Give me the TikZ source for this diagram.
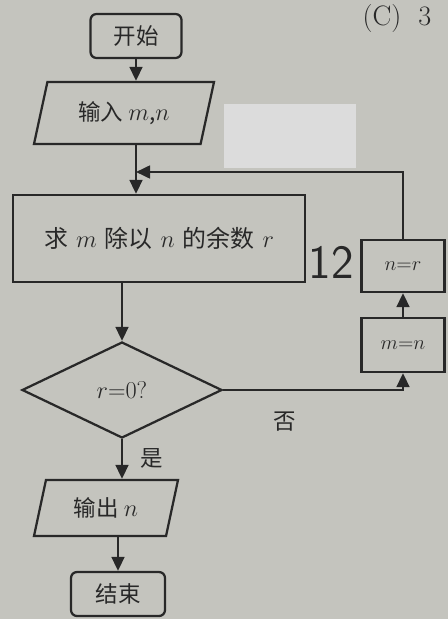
\documentclass[tikz,border=0pt]{standalone}
\usepackage{fontspec}
\newfontfamily\cjk{Noto Sans CJK SC}
\usetikzlibrary{shapes.geometric,arrows.meta}
\definecolor{paper}{RGB}{196,196,190}
\definecolor{ink}{RGB}{40,40,40}
\definecolor{patch}{RGB}{220,220,220}
\begin{document}
\begin{tikzpicture}[x=0.25mm,y=-0.25mm,
  every node/.style={font=\cjk\fontsize{16}{18}\selectfont, text=ink},
  box/.style={draw=ink, line width=1.6pt, inner sep=0pt},
  term/.style={box, rounded corners=1.5mm},
  io/.style={box, trapezium, trapezium left angle=60, trapezium right angle=120, trapezium stretches body},
  proc/.style={box, rectangle},
  dec/.style={box, diamond},
  small/.style={font=\cjk\fontsize{15}{17}\selectfont},
  flow/.style={draw=ink, line width=1.6pt, -{Triangle[length=3.5mm,width=3.2mm]}}]
\fill[paper] (0,0) rectangle (448,619);
\useasboundingbox (0,0) rectangle (448,619);
\fill[patch] (224,104) rectangle (356,168);
\node[font=\fontsize{20}{22}\selectfont] (opt) at (397,18) {(C)\ \ 3};
\node[font=\sffamily\fontsize{34}{36}\selectfont] (hand) at (331,262) {12};

\node[term, minimum width=22.75mm, minimum height=11mm] (start) at (136,36) {开始};
\node[io, minimum width=45mm, minimum height=15.5mm] (input) at (124,113) {输入 $m$,$n$};
\coordinate (j) at (136,172);
\node[proc, font=\cjk\fontsize{17}{19}\selectfont, minimum width=73mm, minimum height=21.75mm] (proc) at (159,238.5) {求\hspace{2mm}$m$\hspace{2mm}除以\hspace{2mm}$n$\hspace{2mm}的余数\hspace{2mm}$r$};
\node[dec, minimum width=50mm, minimum height=24mm] (dec) at (122,390) {$r{=}0?$};
\node[io, minimum width=36mm, minimum height=14mm] (output) at (106,508) {输出 $n$};
\node[term, minimum width=23.5mm, minimum height=11mm] (end) at (118,594) {结束};
\node[proc, small, minimum width=20.75mm, minimum height=13.5mm] (mn) at (403,345) {$m{=}n$};
\node[proc, small, minimum width=20.75mm, minimum height=13mm] (nr) at (403,266) {$n{=}r$};

\draw[flow] (start) -- (start |- input.north);
\draw[flow] (j |- input.south) -- (j |- proc.north);
\draw[flow] (dec.north |- proc.south) -- (dec.north);
\draw[flow] (dec.south) -- (dec.south |- output.north);
\draw[flow] (end.north |- output.south) -- (end.north);
\draw[flow] (dec.east) -| (mn.south);
\draw[flow] (mn.north) -- (nr.south);
\draw[flow] (nr.north) |- (j);

\node (yes) at (152,458) {是};
\node (no) at (285,422) {否};
\end{tikzpicture}
\end{document}
